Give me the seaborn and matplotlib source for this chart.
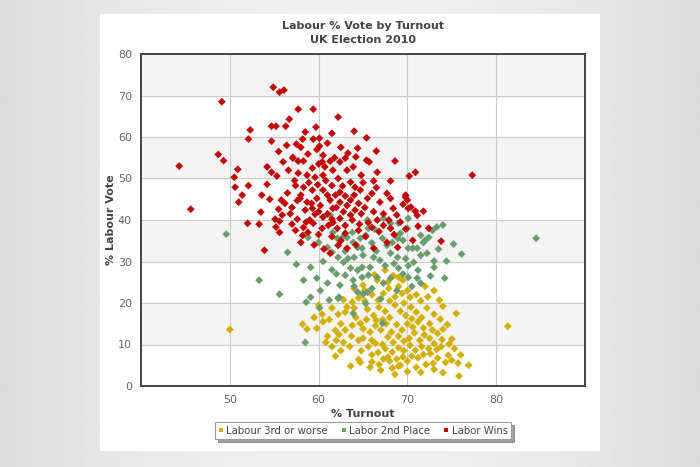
import numpy as np
import pandas as pd
import matplotlib
matplotlib.use("Agg")
import matplotlib.pyplot as plt
from matplotlib.patches import Rectangle
from matplotlib.lines import Line2D
import seaborn as sns

# (turnout %, labour vote %) per constituency
labour_wins = [
    (44.3, 53.0), (45.6, 42.6), (49.1, 68.5), (48.7, 55.8), (49.3, 54.3), (50.9, 52.2), (50.5, 50.3),
    (50.6, 47.9), (52.1, 48.3), (51.4, 46.0), (51.0, 44.3), (52.3, 61.7), (52.1, 59.5), (54.9, 72.0),
    (55.6, 70.8), (56.1, 71.3), (57.7, 66.7), (56.7, 64.3), (54.7, 62.6), (55.2, 62.6), (56.3, 62.6),
    (54.7, 59.0), (57.5, 58.3), (57.1, 55.1), (57.7, 54.2), (54.2, 52.8), (54.7, 51.5), (55.3, 50.6),
    (56.6, 52.0), (59.4, 66.7), (62.2, 64.8), (59.7, 62.4), (58.5, 61.2), (61.5, 60.9), (64.0, 61.4),
    (65.4, 59.8), (58.2, 59.5), (59.4, 59.5), (60.1, 59.7), (60.1, 57.8), (64.4, 57.3), (66.5, 56.6),
    (68.6, 54.2), (70.9, 51.5), (70.2, 50.6), (64.8, 50.8), (66.6, 51.5), (66.2, 49.4), (68.1, 49.4),
    (65.7, 54.0), (65.4, 54.4), (77.3, 50.8), (53.3, 39.0), (52.0, 39.2), (53.5, 41.9), (53.9, 32.7),
    (55.6, 37.0), (55.2, 38.3), (55.1, 40.2), (55.6, 39.7), (55.9, 41.2), (55.5, 42.6), (55.8, 44.8),
    (57.6, 40.2), (54.2, 48.6), (57.6, 44.7), (58.7, 44.3), (59.3, 42.8), (58.5, 42.4), (59.6, 41.4),
    (60.5, 40.7), (58.3, 38.2), (58.2, 36.3), (58.0, 34.6), (59.4, 39.2), (60.4, 38.0), (61.1, 38.7),
    (61.6, 39.4), (62.4, 40.4), (62.1, 38.0), (63.0, 38.7), (63.6, 41.2), (64.1, 42.4), (61.6, 42.8),
    (62.4, 44.3), (64.5, 44.0), (65.5, 45.2), (66.9, 44.3), (68.1, 45.2), (69.8, 45.5), (70.1, 42.8),
    (68.4, 42.8), (66.6, 40.0), (67.3, 38.7), (68.1, 38.0), (65.6, 39.4), (62.2, 33.9), (63.2, 33.2),
    (61.3, 32.0), (66.2, 33.2), (68.9, 33.4), (67.7, 34.6), (57.1, 54.9), (58.3, 54.2), (58.8, 55.9),
    (60.5, 55.6), (60.4, 54.0), (61.3, 54.2), (62.4, 54.0), (63.3, 56.1), (63.0, 54.9), (60.7, 52.8),
    (61.6, 52.0), (63.2, 52.0), (59.3, 52.5), (57.7, 51.3), (58.7, 50.8), (59.6, 50.3), (60.5, 50.8),
    (62.2, 50.0), (63.6, 49.1), (64.1, 47.9), (57.4, 48.3), (58.3, 47.9), (59.3, 47.2), (60.5, 47.2),
    (61.5, 48.3), (62.4, 46.7), (64.7, 47.2), (66.0, 46.4), (67.7, 46.4), (69.8, 46.0), (70.0, 44.8),
    (63.6, 44.8), (61.3, 44.8), (59.8, 45.2), (57.9, 45.2), (73.8, 34.9), (71.8, 42.1), (71.1, 41.1),
    (70.9, 42.1), (70.6, 35.1), (70.4, 43.1), (56.5, 46.5), (57.0, 43.0), (56.8, 41.5), (57.3, 49.5),
    (58.0, 46.0), (58.9, 49.0), (59.9, 48.5), (60.8, 49.5), (61.9, 46.0), (60.2, 43.5), (61.0, 41.5),
    (62.8, 42.0), (63.8, 40.0), (64.8, 41.5), (65.2, 43.0), (66.2, 42.0), (67.3, 41.5), (67.9, 40.0),
    (69.2, 39.5), (68.8, 41.2), (69.5, 43.8), (66.5, 47.8), (65.0, 49.0), (63.0, 45.8), (64.0, 46.0),
    (62.0, 43.0), (60.0, 42.0), (59.0, 40.0), (58.8, 37.0), (60.0, 36.5), (61.5, 36.0), (63.0, 36.8),
    (64.5, 37.5), (65.3, 36.0), (62.5, 35.0), (59.5, 34.0), (60.6, 33.0), (64.2, 34.0), (66.8, 37.2),
    (68.5, 36.5), (69.8, 37.8), (71.2, 38.5), (72.4, 38.0), (56.0, 54.0), (55.5, 56.5), (59.8, 57.0),
    (61.0, 58.5), (62.5, 57.5), (58.0, 57.5), (56.4, 58.0), (63.9, 52.8), (64.2, 55.2), (60.0, 53.5),
    (61.8, 55.0), (57.0, 39.0), (56.2, 44.0), (54.5, 45.0), (53.6, 46.0), (57.4, 37.5), (58.6, 39.5),
    (62.7, 48.2), (61.0, 46.0), (59.2, 44.0), (61.5, 40.2), (63.2, 43.5), (64.6, 39.0), (66.0, 38.2),
]

labour_2nd = [
    (49.6, 36.6), (56.5, 32.2), (57.5, 29.3), (53.3, 25.5), (55.6, 22.1), (84.5, 35.6), (58.6, 20.2),
    (58.5, 10.5), (61.2, 20.7), (60.1, 18.8), (62.3, 21.4), (65.0, 22.1), (63.9, 17.5), (65.3, 19.9),
    (67.2, 15.1), (61.3, 41.2), (60.0, 34.6), (58.8, 35.8), (61.0, 33.4), (61.5, 32.2), (62.2, 31.0),
    (62.8, 29.8), (63.3, 30.7), (63.9, 34.6), (64.4, 33.4), (64.7, 35.6), (65.3, 36.3), (65.6, 38.0),
    (64.9, 33.2), (63.8, 37.0), (63.2, 35.8), (62.7, 35.8), (62.1, 35.6), (61.6, 37.0), (65.5, 40.0),
    (67.3, 40.4), (68.1, 39.2), (69.0, 39.2), (70.0, 38.0), (70.1, 40.4), (67.2, 35.6), (67.7, 33.9),
    (68.3, 34.6), (68.9, 35.6), (69.5, 35.1), (70.1, 33.2), (68.1, 32.0), (68.9, 31.0), (69.8, 30.7),
    (66.9, 30.3), (66.2, 31.0), (67.5, 29.0), (69.0, 28.4), (70.1, 29.0), (65.8, 28.6), (64.9, 28.6),
    (64.4, 27.9), (63.6, 28.4), (63.0, 26.7), (63.9, 25.5), (64.9, 26.2), (65.6, 26.7), (66.6, 26.2),
    (67.3, 24.8), (68.1, 26.0), (70.1, 26.2), (61.0, 24.8), (62.4, 24.3), (64.4, 22.6), (65.5, 22.6),
    (59.8, 26.0), (58.3, 25.5), (59.1, 28.6), (59.1, 21.4), (62.2, 21.1), (74.0, 38.8), (73.3, 38.3),
    (75.2, 34.2), (76.1, 31.8), (74.4, 30.1), (73.0, 30.1), (73.0, 28.6), (72.6, 26.5), (74.2, 26.0),
    (72.8, 37.5), (72.4, 35.8), (72.0, 35.1), (71.8, 34.6), (71.5, 36.3), (71.5, 31.5), (70.7, 29.8),
    (71.2, 27.9), (71.1, 26.0), (71.5, 24.8), (71.1, 33.2), (70.6, 33.2), (66.0, 34.5), (66.5, 32.5),
    (65.0, 31.5), (63.0, 32.5), (64.0, 31.0), (60.5, 30.0), (61.5, 28.0), (62.0, 27.0), (68.5, 29.5),
    (69.5, 27.0), (70.5, 24.0), (66.0, 23.5), (68.8, 23.0), (67.0, 21.0), (69.2, 36.8), (66.3, 37.8),
    (64.0, 24.0), (60.2, 23.0), (73.5, 33.0), (72.2, 32.0),
]

labour_3rd = [
    (50.0, 13.6), (81.3, 14.4), (75.8, 2.4), (76.9, 5.0), (75.7, 5.5), (58.2, 14.9), (58.7, 13.7),
    (59.8, 13.9), (60.4, 17.3), (62.2, 17.3), (63.0, 17.8), (61.9, 13.4), (62.3, 12.4), (63.8, 20.2),
    (63.8, 14.6), (63.7, 12.0), (64.7, 15.1), (65.0, 11.5), (61.9, 7.2), (64.5, 6.4), (64.7, 5.7),
    (66.8, 5.2), (66.4, 10.3), (67.8, 7.0), (68.3, 4.3), (69.2, 5.0), (66.7, 8.1), (75.5, 17.5),
    (73.6, 20.7), (74.0, 19.2), (73.0, 17.3), (73.7, 16.1), (74.0, 13.7), (73.4, 12.7), (75.0, 11.3),
    (74.7, 10.1), (74.6, 7.4), (75.0, 6.2), (74.3, 5.7), (72.1, 5.2), (72.9, 5.5), (73.4, 6.7),
    (68.4, 26.6), (69.0, 26.2), (67.5, 27.9), (65.0, 24.3), (66.6, 25.5), (66.7, 20.7), (67.3, 22.3),
    (69.4, 22.3), (70.3, 21.4), (65.5, 18.5), (66.2, 17.0), (66.8, 19.0), (67.5, 18.0), (68.0, 16.5),
    (68.6, 19.5), (69.2, 18.0), (69.8, 17.0), (70.4, 19.0), (71.0, 17.8), (71.6, 16.5), (72.2, 18.8),
    (72.5, 15.0), (71.8, 14.0), (71.2, 15.5), (70.6, 14.2), (70.0, 15.0), (69.4, 13.5), (68.8, 14.8),
    (68.2, 13.0), (67.6, 15.0), (67.0, 13.5), (66.4, 14.5), (65.8, 13.0), (65.4, 16.0), (64.2, 16.5),
    (64.0, 18.8), (65.2, 20.5), (66.0, 22.0), (67.9, 23.5), (68.6, 21.5), (69.0, 24.0), (70.0, 23.0),
    (71.0, 22.0), (71.5, 20.5), (72.3, 21.5), (73.0, 23.0), (72.0, 24.0), (70.8, 12.8), (70.2, 11.5),
    (69.6, 10.8), (69.0, 12.0), (68.4, 10.5), (67.8, 11.8), (67.2, 10.0), (66.0, 11.0), (71.4, 11.0),
    (71.9, 12.3), (72.5, 11.5), (73.0, 10.2), (72.4, 9.0), (71.6, 9.5), (70.9, 8.6), (70.3, 9.8),
    (69.6, 8.5), (69.0, 9.2), (68.3, 8.2), (67.5, 9.0), (70.5, 7.2), (71.2, 6.8), (71.8, 7.6),
    (72.6, 7.8), (73.3, 8.8), (73.8, 9.5), (70.0, 6.0), (69.5, 7.0), (68.8, 6.5), (68.0, 6.0),
    (67.3, 6.5), (66.0, 7.5), (65.6, 9.5), (64.8, 8.5), (63.5, 9.5), (62.8, 10.5), (62.0, 11.0),
    (61.0, 12.0), (60.5, 15.5), (61.2, 16.0), (62.5, 15.0), (63.2, 19.0), (64.5, 21.2), (65.2, 23.0),
    (74.5, 14.8), (75.3, 9.0), (76.0, 7.5), (72.8, 13.5), (73.9, 11.2), (71.0, 4.5), (70.0, 3.5),
    (69.0, 4.8), (67.0, 3.8), (65.8, 4.5), (63.6, 4.8), (66.0, 5.8), (68.6, 2.8), (71.5, 3.3),
    (73.0, 4.0), (74.0, 3.2), (70.5, 16.2), (69.6, 20.0), (68.0, 20.5), (67.2, 16.0), (66.5, 15.8),
    (65.0, 13.8), (64.5, 11.0), (63.0, 13.5), (62.5, 8.5), (61.5, 9.5), (60.8, 10.5), (59.5, 16.5),
    (60.0, 19.5), (61.5, 18.8), (62.8, 20.8), (67.8, 25.0), (69.5, 25.5), (64.0, 23.5), (66.3, 26.8),
]

series_names = ["Labour 3rd or worse", "Labor 2nd Place", "Labor Wins"]
series_colors = ["#d2af00", "#6b9c6e", "#c00808"]

frames = []
for name, pts in zip(series_names, [labour_3rd, labour_2nd, labour_wins]):
    d = pd.DataFrame(pts, columns=["turnout", "vote"])
    d["result"] = name
    frames.append(d)
df = pd.concat(frames, ignore_index=True)

sns.set_style("white")
plt.rcParams["font.family"] = ["DejaVu Sans"]

fig = plt.figure(figsize=(7, 4.67), dpi=100)

# grey page background with a lighter middle
bg = fig.add_axes([0, 0, 1, 1], zorder=-2)
xx = np.linspace(-1, 1, 300)
grad = 0.86 + 0.08 * (1 - xx ** 2)
bg.imshow(np.tile(grad, (60, 1)), cmap="gray", vmin=0, vmax=1, aspect="auto",
          extent=[0, 1, 0, 1])
bg.set_axis_off()
fig.patches.append(Rectangle((100 / 700, 1 - 451 / 467), 500 / 700, 437 / 467,
                             transform=fig.transFigure, facecolor="white",
                             edgecolor="none", zorder=-1))

ax = fig.add_axes([141 / 700, 1 - 386 / 467, 444 / 700, 332 / 467])
ax.set_facecolor("white")
for lo in range(10, 80, 20):
    ax.axhspan(lo, lo + 10, color="#f4f4f4", zorder=0)

sns.scatterplot(data=df, x="turnout", y="vote", hue="result", hue_order=series_names,
                palette=series_colors, marker="D", s=16, linewidth=0, legend=False,
                ax=ax, zorder=3)

ax.set_xlim(40, 90)
ax.set_ylim(0, 80)
ax.set_xticks([50, 60, 70, 80])
ax.set_yticks(range(0, 81, 10))
ax.grid(True, color="#cccccc", linewidth=0.8, zorder=1)
ax.set_axisbelow(True)
ax.tick_params(axis="both", labelsize=8, labelcolor="#666666", length=3, color="#bbbbbb")
for sp in ax.spines.values():
    sp.set_color("#444444")
    sp.set_linewidth(1.4)

ax.set_title("Labour % Vote by Turnout\nUK Election 2010", fontsize=8, fontweight="bold",
             color="#444444", pad=8, linespacing=1.5)
ax.set_xlabel("% Turnout", fontsize=8, fontweight="bold", color="#444444", labelpad=3)
ax.set_ylabel("% Labour Vote", fontsize=8, fontweight="bold", color="#444444", labelpad=1)

handles = [Line2D([], [], marker="s", linestyle="", markersize=3.2, color=c,
                  markeredgewidth=0) for c in series_colors]
leg = ax.legend(handles, series_names, loc="center", bbox_to_anchor=(0.5, -0.135), ncol=3,
                fontsize=7.3, frameon=True, fancybox=False, shadow=True, handlelength=0.5,
                handletextpad=0.3, columnspacing=1.3, borderpad=0.35)
leg.get_frame().set_edgecolor("#999999")
leg.get_frame().set_linewidth(0.8)
for t in leg.get_texts():
    t.set_color("#444444")

plt.savefig("out.png", dpi=100)
